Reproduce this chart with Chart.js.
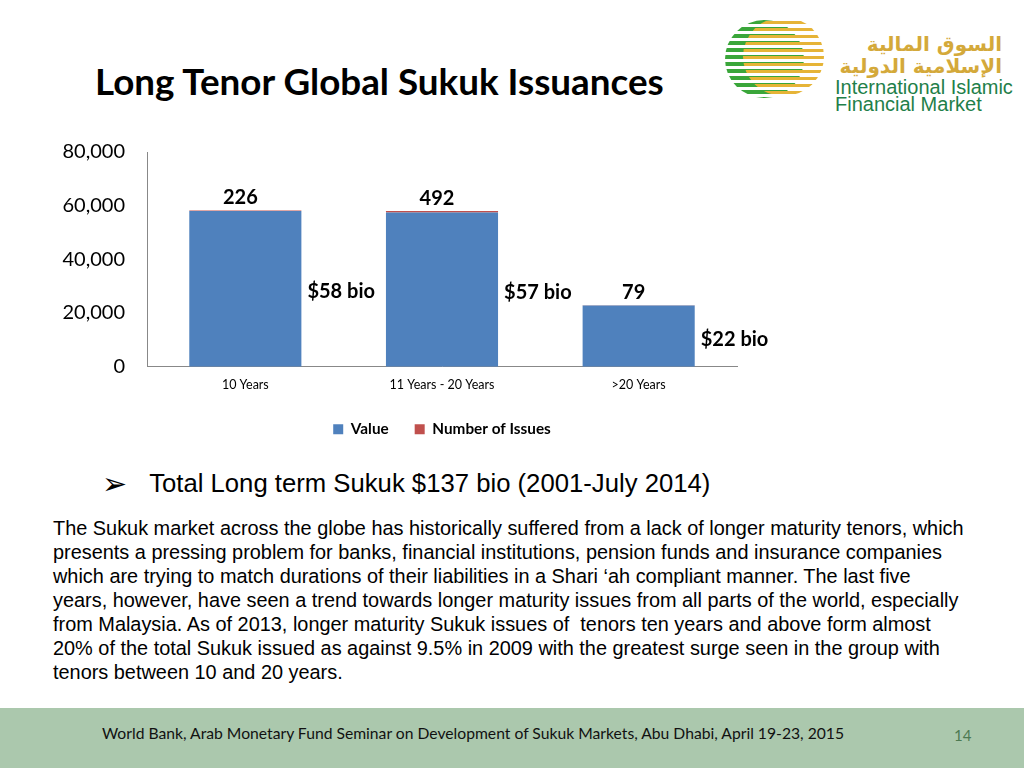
<!DOCTYPE html>
<html>
<head>
<meta charset="utf-8">
<script src="https://cdn.jsdelivr.net/npm/chart.js@4"></script>
<style>
  body { margin: 0; width: 1024px; height: 768px; position: relative; background: #fff; overflow: hidden; font-family: Lato, "Noto Sans", sans-serif; }
  .abs { position: absolute; white-space: nowrap; }
  #title { left: 95px; top: 59px; font-size: 36.8px; line-height: 44px; font-weight: bold; color: #000; }
  #chartCanvas { position: absolute; left: 40px; top: 126px; }
  #bullet { left: 102px; top: 468px; font-size: 25.7px; line-height: 30px; font-family: "Liberation Sans", Arial, sans-serif; }
  #bullet .arrow { font-family: "DejaVu Sans"; font-size: 30px; margin-right: 22px; vertical-align: -2px; }
  #body { position: absolute; left: 53px; top: 516px; font-family: "Liberation Sans", Arial, sans-serif; font-size: 19.9px; line-height: 24px; color: #000; white-space: nowrap; }
  #footer { position: absolute; left: 0; top: 708px; width: 1024px; height: 60px; background: #abc8ad; }
  #footText { left: 102px; top: 15px; font-size: 15.7px; line-height: 20px; color: #111; }
  #pageNo { left: 954px; top: 17px; font-size: 15px; line-height: 20px; color: #4d7a52; }
  .circ { position: absolute; border-radius: 50%; }
  #ar { left: 830px; top: 33px; font-family: "DejaVu Sans"; font-weight: bold; font-size: 20px; line-height: 22px; color: #d4a93a; direction: rtl; text-align: right; width: 172px; }
  #en { left: 835px; top: 79px; font-family: "Liberation Sans", Arial, sans-serif; font-size: 20px; line-height: 17px; color: #1f7f4a; }
</style>
</head>
<body>
<div id="title" class="abs">Long Tenor Global Sukuk Issuances</div>

<div class="circ" style="left:725px;top:20px;width:79px;height:78px;background:repeating-linear-gradient(to bottom,#3aa63a 0 4px,transparent 4px 7px);"></div>
<div class="circ" style="left:743px;top:17px;width:81px;height:79px;background:repeating-linear-gradient(to bottom,transparent 0 4px,#e6b437 4px 7px);"></div>
<div id="ar" class="abs">السوق المالية<br>الإسلامية الدولية</div>
<div id="en" class="abs">International Islamic<br>Financial Market</div>

<canvas id="chartCanvas" width="794" height="321"></canvas>

<div id="bullet" class="abs"><span class="arrow">➢</span>Total Long term Sukuk $137 bio (2001-July 2014)</div>
<div id="body">The Sukuk market across the globe has historically suffered from a lack of longer maturity tenors, which<br>presents a pressing problem for banks, financial institutions, pension funds and insurance companies<br>which are trying to match durations of their liabilities in a Shari ‘ah compliant manner. The last five<br>years, however, have seen a trend towards longer maturity issues from all parts of the world, especially<br>from Malaysia. As of 2013, longer maturity Sukuk issues of&nbsp; tenors ten years and above form almost<br>20% of the total Sukuk issued as against 9.5% in 2009 with the greatest surge seen in the group with<br>tenors between 10 and 20 years.</div>

<div id="footer">
  <div id="footText" class="abs">World Bank, Arab Monetary Fund Seminar on Development of Sukuk Markets, Abu Dhabi, April 19-23, 2015</div>
  <div id="pageNo" class="abs">14</div>
</div>

<script>
// datos del grafico
const categories = ["10 Years", "11 Years - 20 Years", ">20 Years"];
const valueSet = [58000, 57500, 22800];
const issuesSet = [226, 492, 79];
const bioLabels = ["$58 bio", "$57 bio", "$22 bio"];
const yTicks = [0, 20000, 40000, 60000, 80000];

// etiquetas sobre y al lado de las barras
const barLabels = {
  id: "barLabels",
  afterDatasetsDraw(chart) {
    const ctx = chart.ctx;
    ctx.save();
    ctx.font = "bold 20px Lato";
    ctx.fillStyle = "#000";
    const valueBars = chart.getDatasetMeta(0).data;
    const issueBars = chart.getDatasetMeta(1).data;
    valueBars.forEach((bar, i) => {
      ctx.textAlign = "left";
      ctx.textBaseline = "middle";
      ctx.fillText(bioLabels[i], bar.x + bar.width / 2 + 6, (bar.y + bar.base) / 2 + 3);
    });
    issueBars.forEach((bar, i) => {
      ctx.textAlign = "center";
      ctx.textBaseline = "bottom";
      ctx.fillText(issuesSet[i], bar.x - 5, bar.y - 3);
    });
    ctx.restore();
  },
};

const config = {
  type: "bar",
  data: {
    labels: categories,
    datasets: [
      { label: "Value", data: valueSet, backgroundColor: "#4f81bd", barPercentage: 0.57, categoryPercentage: 1 },
      { label: "Number of Issues", data: issuesSet, backgroundColor: "#c0504d", barPercentage: 0.57, categoryPercentage: 1 },
    ],
  },
  options: {
    responsive: false,
    animation: false,
    layout: { padding: { left: 15, right: 97, top: 0 } },
    plugins: {
      tooltip: { enabled: false },
      legend: {
        position: "bottom",
        fullSize: false,
        labels: { boxWidth: 10, boxHeight: 10, color: "#000", font: { family: "Lato", size: 15.3, weight: "bold" }, padding: 26 },
      },
    },
    scales: {
      x: {
        stacked: true,
        grid: { display: false },
        border: { color: "#888", width: 1 },
        ticks: { color: "#000", font: { family: "Lato", size: 12.5 }, padding: 3 },
      },
      y: {
        stacked: true,
        min: 0,
        max: 80000,
        grid: { display: false },
        border: { color: "#888", width: 1 },
        afterBuildTicks: (scale) => { scale.ticks = yTicks.map((v) => ({ value: v })); },
        afterFit: (scale) => { scale.width = 92; },
        ticks: {
          color: "#000",
          padding: 14,
          font: { family: "Lato", size: 20 },
          callback: (v) => v.toLocaleString("en-US"),
        },
      },
    },
  },
  plugins: [barLabels],
};

const ctx = document.getElementById("chartCanvas").getContext("2d");
const sukukChart = new Chart(ctx, config);
</script>
</body>
</html>
